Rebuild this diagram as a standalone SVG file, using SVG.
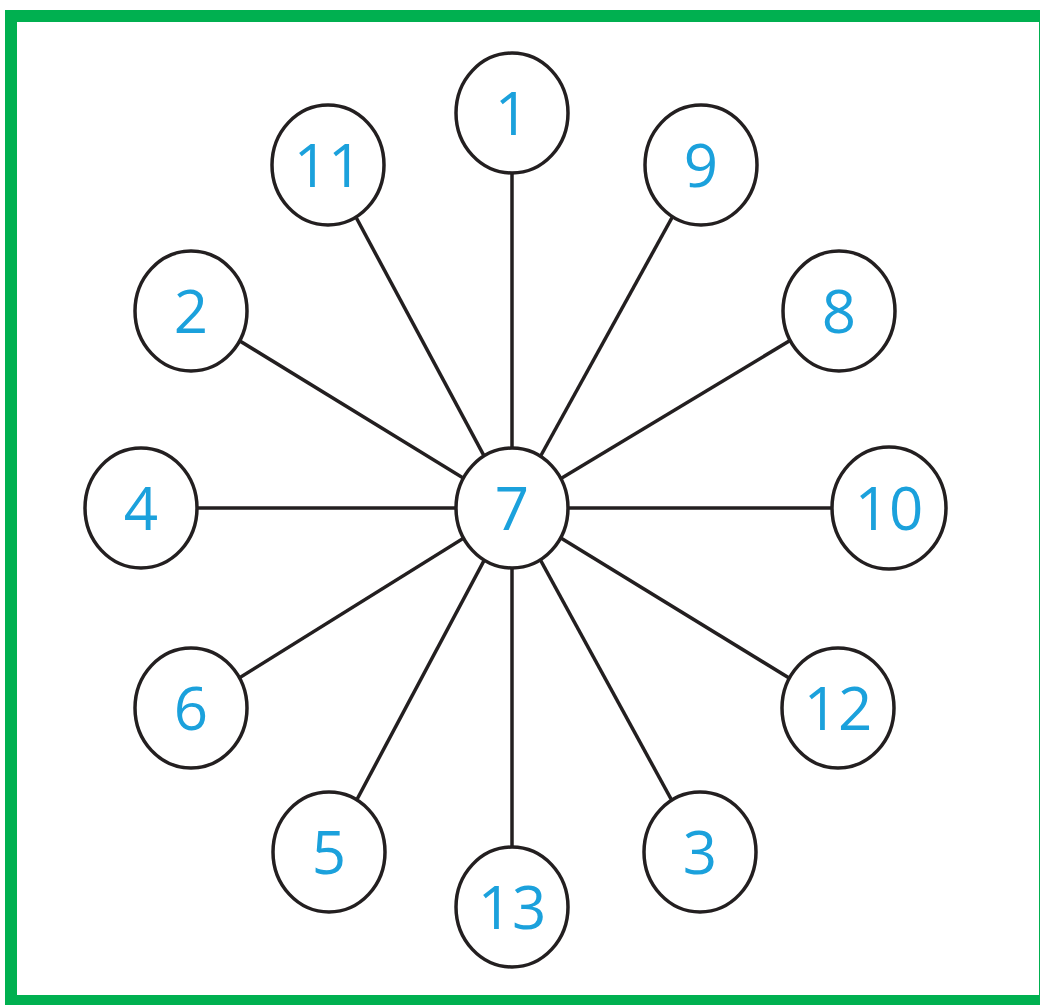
<svg xmlns="http://www.w3.org/2000/svg" width="1040" height="1005" viewBox="0 0 1040 1005">
<style>
.n ellipse{fill:#fff;stroke:#231f20;stroke-width:3.5}
.n text{font-family:"Open Sans","Noto Sans","Liberation Sans",sans-serif;font-weight:400;font-size:60px;fill:#1ba1dc;text-anchor:middle}
.c line{stroke:#231f20;stroke-width:3.5}
</style>
<rect x="0" y="0" width="1040" height="1005" fill="#fff"/>
<rect x="11" y="16" width="1034" height="985" fill="none" stroke="#00b050" stroke-width="12"/>
<g class="c">
<line x1="512" y1="508" x2="512" y2="113"/>
<line x1="512" y1="508" x2="701" y2="165"/>
<line x1="512" y1="508" x2="839" y2="311"/>
<line x1="512" y1="508" x2="889" y2="508"/>
<line x1="512" y1="508" x2="838" y2="708"/>
<line x1="512" y1="508" x2="700" y2="852"/>
<line x1="512" y1="508" x2="512" y2="907"/>
<line x1="512" y1="508" x2="329" y2="852"/>
<line x1="512" y1="508" x2="191" y2="708"/>
<line x1="512" y1="508" x2="141" y2="508"/>
<line x1="512" y1="508" x2="191" y2="311"/>
<line x1="512" y1="508" x2="328" y2="165"/>
</g>
<g id="n7" class="n"><ellipse cx="512" cy="508" rx="56" ry="60"/><text x="512" y="530">7</text></g>
<g id="n1" class="n"><ellipse cx="512" cy="113" rx="56" ry="60"/><text x="512" y="135">1</text></g>
<g id="n9" class="n"><ellipse cx="701" cy="165" rx="56" ry="60"/><text x="701" y="187">9</text></g>
<g id="n8" class="n"><ellipse cx="839" cy="311" rx="56" ry="60"/><text x="839" y="333">8</text></g>
<g id="n10" class="n"><ellipse cx="889" cy="508" rx="57" ry="61"/><text x="889" y="530">10</text></g>
<g id="n12" class="n"><ellipse cx="838" cy="708" rx="56" ry="60"/><text x="838" y="730">12</text></g>
<g id="n3" class="n"><ellipse cx="700" cy="852" rx="56" ry="60"/><text x="700" y="874">3</text></g>
<g id="n13" class="n"><ellipse cx="512" cy="907" rx="56" ry="60"/><text x="512" y="929">13</text></g>
<g id="n5" class="n"><ellipse cx="329" cy="852" rx="56" ry="60"/><text x="329" y="874">5</text></g>
<g id="n6" class="n"><ellipse cx="191" cy="708" rx="56" ry="60"/><text x="191" y="730">6</text></g>
<g id="n4" class="n"><ellipse cx="141" cy="508" rx="56" ry="60"/><text x="141" y="530">4</text></g>
<g id="n2" class="n"><ellipse cx="191" cy="311" rx="56" ry="60"/><text x="191" y="333">2</text></g>
<g id="n11" class="n"><ellipse cx="328" cy="165" rx="56" ry="60"/><text x="328" y="187">11</text></g>
</svg>
